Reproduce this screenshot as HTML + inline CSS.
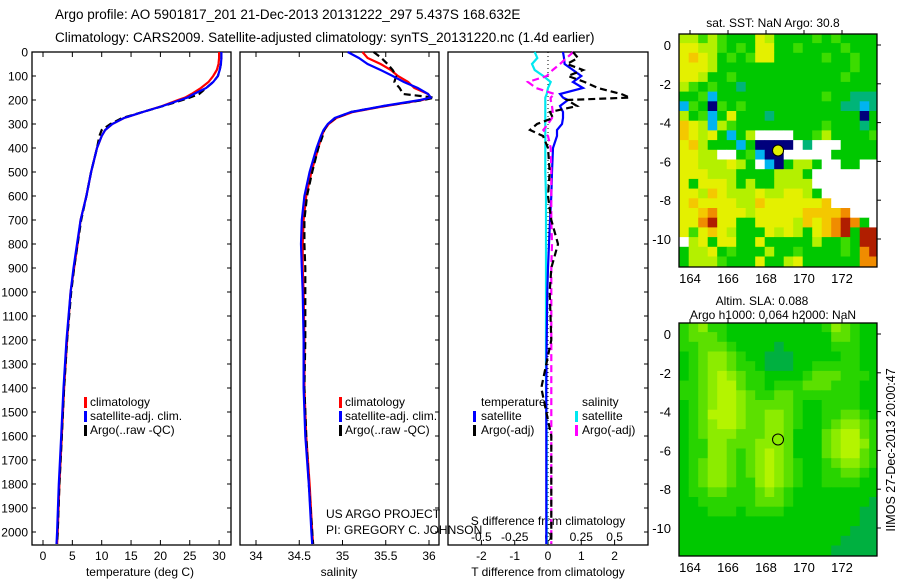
<!DOCTYPE html>
<html><head><meta charset="utf-8"><style>
html,body{margin:0;padding:0;background:#fff;}
svg{display:block;font-family:"Liberation Sans",sans-serif;}
</style></head><body>
<svg id="fig" width="900" height="580" viewBox="0 0 900 580" xmlns="http://www.w3.org/2000/svg">
<rect width="900" height="580" fill="#fff"/>
<text x="55" y="19" font-size="13.5">Argo profile: AO 5901817_201 21-Dec-2013 20131222_297 5.437S 168.632E</text>
<text x="55" y="42" font-size="13.5">Climatology: CARS2009. Satellite-adjusted climatology: synTS_20131220.nc (1.4d earlier)</text>
<g id="g"></g>
</svg>
<script>
// ---- data ----
const depth = [0,25,50,75,100,125,150,175,190,200,225,250,275,300,325,350,400,500,600,700,800,900,1000,1200,1400,1600,1800,2000,2050];
const tempArgo = [30.4,30.4,30.3,30.1,29.8,29.0,27.8,26.6,25.0,23.8,20.5,17.0,13.5,11.5,10.0,9.6,9.2,8.2,7.4,6.5,5.9,5.3,4.8,4.1,3.6,3.2,2.8,2.5,2.4];
const tempClim = [30.0,30.0,29.9,29.6,29.0,28.2,26.9,25.3,24.2,23.0,20.3,17.0,13.8,11.8,10.6,10.0,9.2,8.2,7.4,6.4,5.9,5.3,4.7,4.1,3.6,3.2,2.8,2.5,2.4];
const tempSat = [30.4,30.4,30.3,30.1,29.8,29.0,27.8,25.7,24.6,23.4,20.4,17.0,13.8,11.8,10.6,10.0,9.2,8.2,7.4,6.4,5.8,5.2,4.7,4.0,3.5,3.1,2.7,2.4,2.3];
const salArgo = [35.36,35.45,35.52,35.58,35.62,35.60,35.66,35.70,36.06,35.94,35.48,35.10,34.92,34.83,34.79,34.77,34.72,34.65,34.59,34.56,34.56,34.57,34.57,34.57,34.56,34.58,34.61,34.65,34.66];
const salClim = [35.23,35.29,35.44,35.56,35.64,35.76,35.83,35.99,36.02,35.92,35.50,35.12,34.93,34.84,34.79,34.76,34.72,34.64,34.58,34.55,34.54,34.54,34.55,34.56,34.56,34.58,34.62,34.65,34.66];
const salSat = [35.06,35.19,35.29,35.44,35.58,35.71,35.87,35.99,36.02,35.90,35.47,35.10,34.91,34.83,34.78,34.75,34.70,34.62,34.56,34.53,34.52,34.53,34.54,34.55,34.55,34.57,34.61,34.64,34.65];
const dTsat = [0.45,0.48,0.5,0.75,1.0,0.75,1.05,0.36,0.45,0.6,0.36,0.45,0.45,0.42,0.27,0.27,0.15,0.12,0.1,0.06,0.03,0.0,-0.02,-0.04,-0.05,-0.05,-0.05,-0.05,-0.05];
const dTargo = [0.75,0.9,0.57,1.05,0.6,1.1,1.5,2.2,2.46,0.57,0.87,0.06,0.15,-0.33,-0.54,-0.15,0.0,0.05,0.0,0.1,0.3,0.1,0.05,0.1,-0.2,0.1,0.1,0.1,0.1];
const dSsat = [-0.1,-0.08,-0.12,-0.1,-0.035,0.02,0.0,-0.01,-0.02,-0.02,-0.02,-0.02,-0.02,-0.02,-0.02,-0.02,-0.02,-0.02,-0.015,-0.015,-0.015,-0.015,-0.015,-0.015,-0.015,-0.01,-0.01,-0.01,-0.01];
const dSargo = [0.19,0.14,0.09,0.035,-0.01,-0.15,-0.09,0.05,0.02,0.02,0.03,0.035,0.03,0.0,-0.035,0.0,0.02,0.025,0.025,0.025,0.03,0.025,0.025,0.025,0.025,0.025,0.025,0.025,0.025];
const depthTicks = [0,100,200,300,400,500,600,700,800,900,1000,1100,1200,1300,1400,1500,1600,1700,1800,1900,2000];
const tempTicks = [0,5,10,15,20,25,30];
const salTicks = [34,34.5,35,35.5,36];
const salTickLabels = ["34","34.5","35","35.5","36"];
const tdTicks = [-2,-1,0,1,2];
const sdTicks = [-0.5,-0.25,0,0.25,0.5];
const sdTickLabels = ["-0.5","-0.25","0","0.25","0.5"];
const lonTicks = [164,166,168,170,172];
const latTicks = [0,-2,-4,-6,-8,-10];
const argoLon = 168.632, argoLat = -5.437;
const sstGrid = [
"YYgYgGGGyYGGGGgGgGGGG","yyYYgGgGyyGGgGGGGgGGG","yoyYGgGgyyGGGGGgGGgGG","yyyYGGGGGGGGGGGGGGgGG",
"yyYGGgGGGGGGGGGGGgGGG","YgGgGGtGGGGGGGGGGGGGG","GGgcGGGGGGGGGGGgGGttt","cgGNgGgGGGGGGGGGGttct",
"YGgcGyGGGtGGGGGGGGGNG","oyYcYgGGGGGGGGGgGGGtG","oyYyGcGYwwwwGGgYGGGGg","yoYGGGcGNNNNwtwwwGGGG",
"yyYYwwGgcNNwwwwwGGGGG","yyYYYyYGwcNGYYGwwGGww","yyyYYYGGGGYYYGwwwwwww","yGyyyYGYGGYYYYwwwwwww",
"yyYoyYYYyYYyyYGwwwwww","yoyyyyYYoyyyyyyowwwww","yyoOyyyYyyyyyooooOwww","yyORyyGGyyyyYoyoOROGw",
"ygyoyYGGGyYyYGyoORGRR","wYyGyyGGyGGGGGYGGgGRR","GYYyGgGGGYGGgGGGGgGOR","GYYYgGGGyGGYyGGGGGGOO"];
const slaGrid = [
"234221111111111243211","233321111111111133211","223332111101111122211","123443211000111112211",
"123443221000112222211","123454322111123332221","223455322122233322211","223455432233222222211",
"123455433333211222211","123555433443211223321","123455433443211234432","123444333443111345532",
"122443334443111345542","122443234543111345532","123443234543211234432","123443234543211223321",
"123443224543211222211","122332223432111111111","112222223332111111110","111222122221111111100",
"111111111111111111100","111111111111111111000","111111111111111110000","111111111111111100000"];
// ---- rendering ----
const NS="http://www.w3.org/2000/svg";
const root=document.getElementById('g');
function mk(tag,attrs,parent){const e=document.createElementNS(NS,tag);for(const k in attrs)e.setAttribute(k,attrs[k]);(parent||root).appendChild(e);return e;}
const yTop=52, pxPerM=0.24, yBot=545;
const yD=d=>yTop+d*pxPerM;
const xT=v=>43+v*5.87;
const xS=v=>256+(v-34)*86.5;
const xTd=v=>548+v*33.3;
const xSd=v=>548+v*133.2;
const FS=12;

function frame(x0,x1,name){
  const r=mk('rect',{x:x0,y:yTop,width:x1-x0,height:yBot-yTop,fill:'none',stroke:'#000','stroke-width':1.3});
  
  
  depthTicks.forEach(d=>{
    const t=mk('line',{x1:x1-4,x2:x1,y1:yD(d),y2:yD(d),stroke:'#000'});
    
    
  });
}
function line(xs,fx,ds,color,dash,name){
  const pts=xs.map((v,i)=>fx(v).toFixed(1)+','+yD(ds[i]).toFixed(1)).join(' ');
  const a={points:pts,fill:'none',stroke:color,'stroke-width':2.2};
  if(dash)a['stroke-dasharray']=dash;
  const p=mk('polyline',a);
  
  
}
function xticks(ticks,labels,fx,y,inTop,name){
  ticks.forEach((t,i)=>{
    const l=mk('line',{x1:fx(t),x2:fx(t),y1:yBot,y2:yBot-5,stroke:'#000'});
    
    
    if(inTop){const l2=mk('line',{x1:fx(t),x2:fx(t),y1:yTop,y2:yTop+5,stroke:'#000'});
      
      }
    const tx=mk('text',{x:fx(t),y:y,'font-size':FS,'text-anchor':'middle'});
    tx.textContent=labels?labels[i]:String(t);
    
    
  });
}
function txt(x,y,s,name,anchor,size){
  const t=mk('text',{x:x,y:y,'font-size':size||FS,'text-anchor':anchor||'start'});
  t.textContent=s;
  
  
  return t;
}
function legbar(x,y,color,name){
  const r=mk('rect',{x:x,y:y-10,width:3,height:11,fill:color});
  
  
}
// panel 1
frame(32,231,'temperature-panel');
depthTicks.forEach(d=>{
  const l=mk('line',{x1:32,x2:36,y1:yD(d),y2:yD(d),stroke:'#000'});
  
  
  txt(28,yD(d)+4.5,String(d),'y-tick-label','end');
});
xticks(tempTicks,null,xT,560,true,'temp-axis');
txt(140,576,'temperature (deg C)','temp-axis-title','middle');
line(tempClim,xT,depth,'#f00',null,'temp-climatology-line');
line(tempArgo,xT,depth,'#000','7,4','temp-argo-line');
line(tempSat,xT,depth,'#00f',null,'temp-satellite-line');
legbar(84,407,'#f00','legend-swatch-climatology');txt(90,406,'climatology','legend-climatology');
legbar(84,421,'#00f','legend-swatch-satellite');txt(90,420,'satellite-adj. clim.','legend-satellite');
legbar(84,435,'#000','legend-swatch-argo');txt(90,434,'Argo(..raw -QC)','legend-argo');
// panel 2
frame(240,439,'salinity-panel');
xticks(salTicks,salTickLabels,xS,560,true,'sal-axis');
txt(339,576,'salinity','sal-axis-title','middle');
line(salClim,xS,depth,'#f00',null,'sal-climatology-line');
line(salArgo,xS,depth,'#000','7,4','sal-argo-line');
line(salSat,xS,depth,'#00f',null,'sal-satellite-line');
legbar(339,407,'#f00','legend2-swatch-climatology');txt(345,406,'climatology','legend2-climatology');
legbar(339,421,'#00f','legend2-swatch-satellite');txt(345,420,'satellite-adj. clim.','legend2-satellite');
legbar(339,435,'#000','legend2-swatch-argo');txt(345,434,'Argo(..raw -QC)','legend2-argo');
txt(326,518,'US ARGO PROJECT','project-credit');
txt(326,534,'PI: GREGORY C. JOHNSON','pi-credit');
// panel 3
frame(448,648,'difference-panel');
const zl=mk('line',{x1:548,x2:548,y1:yTop,y2:yBot,stroke:'#000','stroke-dasharray':'1,3'});


xticks(tdTicks,null,xTd,560,false,'tdiff-axis');
txt(548,576,'T difference from climatology','tdiff-axis-title','middle');
sdTicks.forEach((t,i)=>{const tx=txt(xSd(t),541,sdTickLabels[i],'sdiff-tick-label','middle');});
txt(548,525,'S difference from climatology','sdiff-axis-title','middle');
line(dSsat,xSd,depth,'#00e8f0',null,'sdiff-satellite-line');
line(dTsat,xTd,depth,'#00f',null,'tdiff-satellite-line');
line(dSargo,xSd,depth,'#f0f','7,4','sdiff-argo-line');
line(dTargo,xTd,depth,'#000','7,4','tdiff-argo-line');
txt(481,406,'temperature','legend3-temperature-header');
txt(582,406,'salinity','legend3-salinity-header');
legbar(473,421,'#00f','legend3-swatch-t-sat');txt(481,420,'satellite','legend3-t-satellite');
legbar(473,435,'#000','legend3-swatch-t-argo');txt(481,434,'Argo(-adj)','legend3-t-argo');
legbar(575,421,'#00e8f0','legend3-swatch-s-sat');txt(582,420,'satellite','legend3-s-satellite');
legbar(575,435,'#f0f','legend3-swatch-s-argo');txt(582,434,'Argo(-adj)','legend3-s-argo');
// maps
const sstColors={G:'#00c800',g:'#3cdc00',Y:'#b4f000',y:'#e4f000',o:'#f4c800',O:'#f08c00',R:'#b01e00',t:'#00b478',c:'#00b4f0',N:'#00007c',w:'#ffffff'};
const slaColors=['#00b040','#00c800','#28d400','#5ce000','#8cec00','#b4f400'];
function map(top,grid,colors,name,filled){
  const x0=679,x1=877,y0=top,y1=top+233;
  const lon0=163.43, lat0=0.6;
  const px=19.0, py=19.4;
  const xL=l=>690+(l-164)*px;
  const yL=l=>(top+11)-l*py;
  const g=mk('g',{});
  
  
  grid.forEach((row,r)=>{
    for(let c=0;c<row.length;c++){
      const ch=row[c];
      const col=colors[ch]!==undefined?colors[ch]:colors[+ch];
      const lonA=lon0+c*0.5, latA=lat0-r*0.5;
      const cx=Math.max(x0,xL(lonA)), cy=Math.max(y0,yL(latA));
      const cw=Math.min(x1,xL(lonA+0.5))-cx, ch2=Math.min(y1,yL(latA-0.5))-cy;
      const cell=mk('rect',{x:cx.toFixed(1),y:cy.toFixed(1),width:(cw+0.4).toFixed(1),height:(ch2+0.4).toFixed(1),fill:col},g);
      
      
    }
  });
  const fr=mk('rect',{x:x0,y:y0,width:x1-x0,height:y1-y0,fill:'none',stroke:'#000','stroke-width':1.3});
  
  
  lonTicks.forEach(l=>{
    const a=mk('line',{x1:xL(l),x2:xL(l),y1:y0,y2:y0-4,stroke:'#000'});
    
    
    txt(xL(l),y1+16,String(l),'lon-tick-label','middle',13);
  });
  latTicks.forEach(l=>{
    const a=mk('line',{x1:x1,x2:x1+4,y1:yL(l),y2:yL(l),stroke:'#000'});
    
    
    txt(x0-8,yL(l)+5,String(l),'lat-tick-label','end',13);
  });
  const m=mk('circle',{cx:xL(argoLon),cy:yL(argoLat),r:5.5,fill:filled?'#e0f000':'none',stroke:'#000','stroke-width':1});
  
  
}
map(34,sstGrid,sstColors,'sst-map',true);
map(323,slaGrid,slaColors,'sla-map',false);
txt(773,27,'sat. SST: NaN Argo: 30.8','sst-map-title','middle');
txt(762,305,'Altim. SLA: 0.088','sla-map-title','middle');
txt(773,319,'Argo h1000: 0.064 h2000: NaN','sla-map-subtitle','middle');
const side=txt(0,0,'IIMOS 27-Dec-2013 20:00:47','timestamp','middle',12.5);
side.setAttribute('transform','translate(895,450) rotate(-90)');
</script>
</body></html>
